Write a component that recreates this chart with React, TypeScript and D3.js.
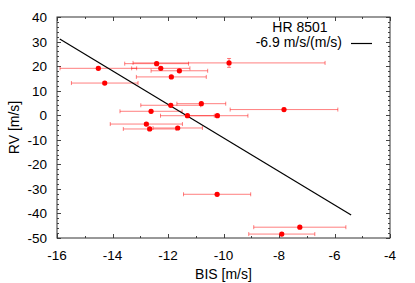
import React, { useEffect, useRef } from 'react';
import * as d3 from 'd3';

// BIS vs RV for HR 8501
const bis = [-12.41, -9.8, -14.51, -12.26, -11.59, -11.88, -14.28, -10.8, -11.9, -12.61, -11.3, -10.22, -12.78, -11.65, -12.66, -7.82, -10.23, -7.25, -7.9];
const rv = [21.0, 21.3, 19.1, 19.1, 18.1, 15.6, 13.1, 4.7, 4.05, 1.6, -0.2, -0.2, -3.6, -5.2, -5.6, 2.3, -32.2, -45.6, -48.4];
const bisErr = [1.15, 3.46, 1.38, 1.05, 1.02, 1.26, 1.2, 0.88, 1.08, 1.12, 0.97, 1.1, 1.3, 0.89, 0.95, 1.94, 1.21, 1.66, 1.19];
const rvErr = [0.6, 1.8, 0.6, 0.6, 0.6, 0.6, 0.6, 0.6, 0.6, 0.6, 0.6, 0.6, 0.6, 0.6, 0.6, 0.6, 0.6, 0.6, 0.6];

// linear fit, slope -6.9 m/s/(m/s)
const fitX = [-15.9, -5.4];
const fitY = [31.0, -40.6];

const xTicks = [-16, -14, -12, -10, -8, -6, -4];
const yTicks = [40, 30, 20, 10, 0, -10, -20, -30, -40, -50];

const starName = 'HR 8501';
const fitLabel = '-6.9 m/s/(m/s)';

const W = 415;
const H = 283;

const App = () => {
  const ref = useRef<SVGSVGElement>(null);

  useEffect(() => {
    const svg = d3.select(ref.current);
    svg.selectAll('*').remove();

    const margin = { top: 17, right: 25, bottom: 45, left: 57 };
    const x = d3.scaleLinear().domain([-16, -4]).range([margin.left, W - margin.right]);
    const y = d3.scaleLinear().domain([-50, 40]).range([H - margin.bottom, margin.top]);
    const font = 'Liberation Sans, Arial, sans-serif';

    const x0 = x(-16), x1 = x(-4), y0 = y(-50), y1 = y(40);

    // minor + major ticks, mirrored on all four sides
    const ticks = svg.append('g').attr('stroke', '#444').attr('stroke-width', 1);
    d3.range(-16, -3, 1).forEach(v => {
      const len = v % 2 === 0 ? 4 : 2;
      const px = Math.round(x(v)) + 0.5;
      ticks.append('line').attr('x1', px).attr('x2', px).attr('y1', y0).attr('y2', y0 - len);
      ticks.append('line').attr('x1', px).attr('x2', px).attr('y1', y1).attr('y2', y1 + len);
    });
    d3.range(-50, 41, 2).forEach(v => {
      const len = v % 10 === 0 ? 4 : 2;
      const py = Math.round(y(v)) + 0.5;
      ticks.append('line').attr('x1', x0).attr('x2', x0 + len).attr('y1', py).attr('y2', py);
      ticks.append('line').attr('x1', x1).attr('x2', x1 - len).attr('y1', py).attr('y2', py);
    });

    svg.append('rect')
      .attr('x', x0).attr('y', y1)
      .attr('width', x1 - x0).attr('height', y0 - y1)
      .attr('fill', 'none').attr('stroke', '#333').attr('stroke-width', 1);

    // tick labels
    svg.selectAll('.xl').data(xTicks).enter().append('text')
      .attr('x', d => x(d)).attr('y', y0 + 22)
      .attr('text-anchor', 'middle')
      .attr('font-family', font).attr('font-size', 13.5)
      .text(d => d);

    svg.selectAll('.yl').data(yTicks).enter().append('text')
      .attr('x', x0 - 10).attr('y', d => y(d) + 5)
      .attr('text-anchor', 'end')
      .attr('font-family', font).attr('font-size', 13.5)
      .text(d => d);

    // axis titles
    svg.append('text')
      .attr('x', (x0 + x1) / 2).attr('y', H - 4)
      .attr('text-anchor', 'middle')
      .attr('font-family', font).attr('font-size', 14)
      .text('BIS [m/s]');
    svg.append('text')
      .attr('transform', `translate(19, ${(y0 + y1) / 2}) rotate(-90)`)
      .attr('text-anchor', 'middle')
      .attr('font-family', font).attr('font-size', 14)
      .text('RV [m/s]');

    // error bars
    const pts = bis.map((b, i) => ({ b, r: rv[i], eb: bisErr[i], er: rvErr[i] }));
    const eg = svg.append('g').attr('stroke', 'red').attr('stroke-opacity', 0.5).attr('stroke-width', 1);
    pts.forEach(p => {
      const cy = y(p.r);
      eg.append('line').attr('x1', x(p.b - p.eb)).attr('x2', x(p.b + p.eb)).attr('y1', cy).attr('y2', cy);
      eg.append('line').attr('x1', x(p.b - p.eb)).attr('x2', x(p.b - p.eb)).attr('y1', cy - 2).attr('y2', cy + 2);
      eg.append('line').attr('x1', x(p.b + p.eb)).attr('x2', x(p.b + p.eb)).attr('y1', cy - 2).attr('y2', cy + 2);
      const cx = x(p.b);
      eg.append('line').attr('x1', cx).attr('x2', cx).attr('y1', y(p.r - p.er)).attr('y2', y(p.r + p.er));
      eg.append('line').attr('x1', cx - 2).attr('x2', cx + 2).attr('y1', y(p.r - p.er)).attr('y2', y(p.r - p.er));
      eg.append('line').attr('x1', cx - 2).attr('x2', cx + 2).attr('y1', y(p.r + p.er)).attr('y2', y(p.r + p.er));
    });

    // fit line
    const line = d3.line<number>().x(d => x(d)).y((d, i) => y(fitY[i]));
    svg.append('path')
      .attr('d', line(fitX))
      .attr('fill', 'none').attr('stroke', 'black').attr('stroke-width', 1.2);

    svg.selectAll('.pt').data(pts).enter().append('circle')
      .attr('cx', d => x(d.b)).attr('cy', d => y(d.r))
      .attr('r', 2.6).attr('fill', 'red');

    // legend
    svg.append('text')
      .attr('x', 300).attr('y', 31.5)
      .attr('text-anchor', 'middle')
      .attr('font-family', font).attr('font-size', 14)
      .text(starName);
    svg.append('text')
      .attr('x', 342).attr('y', 47)
      .attr('text-anchor', 'end')
      .attr('font-family', font).attr('font-size', 14)
      .text(fitLabel);
    svg.append('line')
      .attr('x1', 351).attr('x2', 372).attr('y1', 43.5).attr('y2', 43.5)
      .attr('stroke', 'black').attr('stroke-width', 1.2);
  }, []);

  return <svg ref={ref} width={W} height={H} style={{ position: 'absolute', left: 0, top: 0, background: 'white' }} />;
};

export default App;
